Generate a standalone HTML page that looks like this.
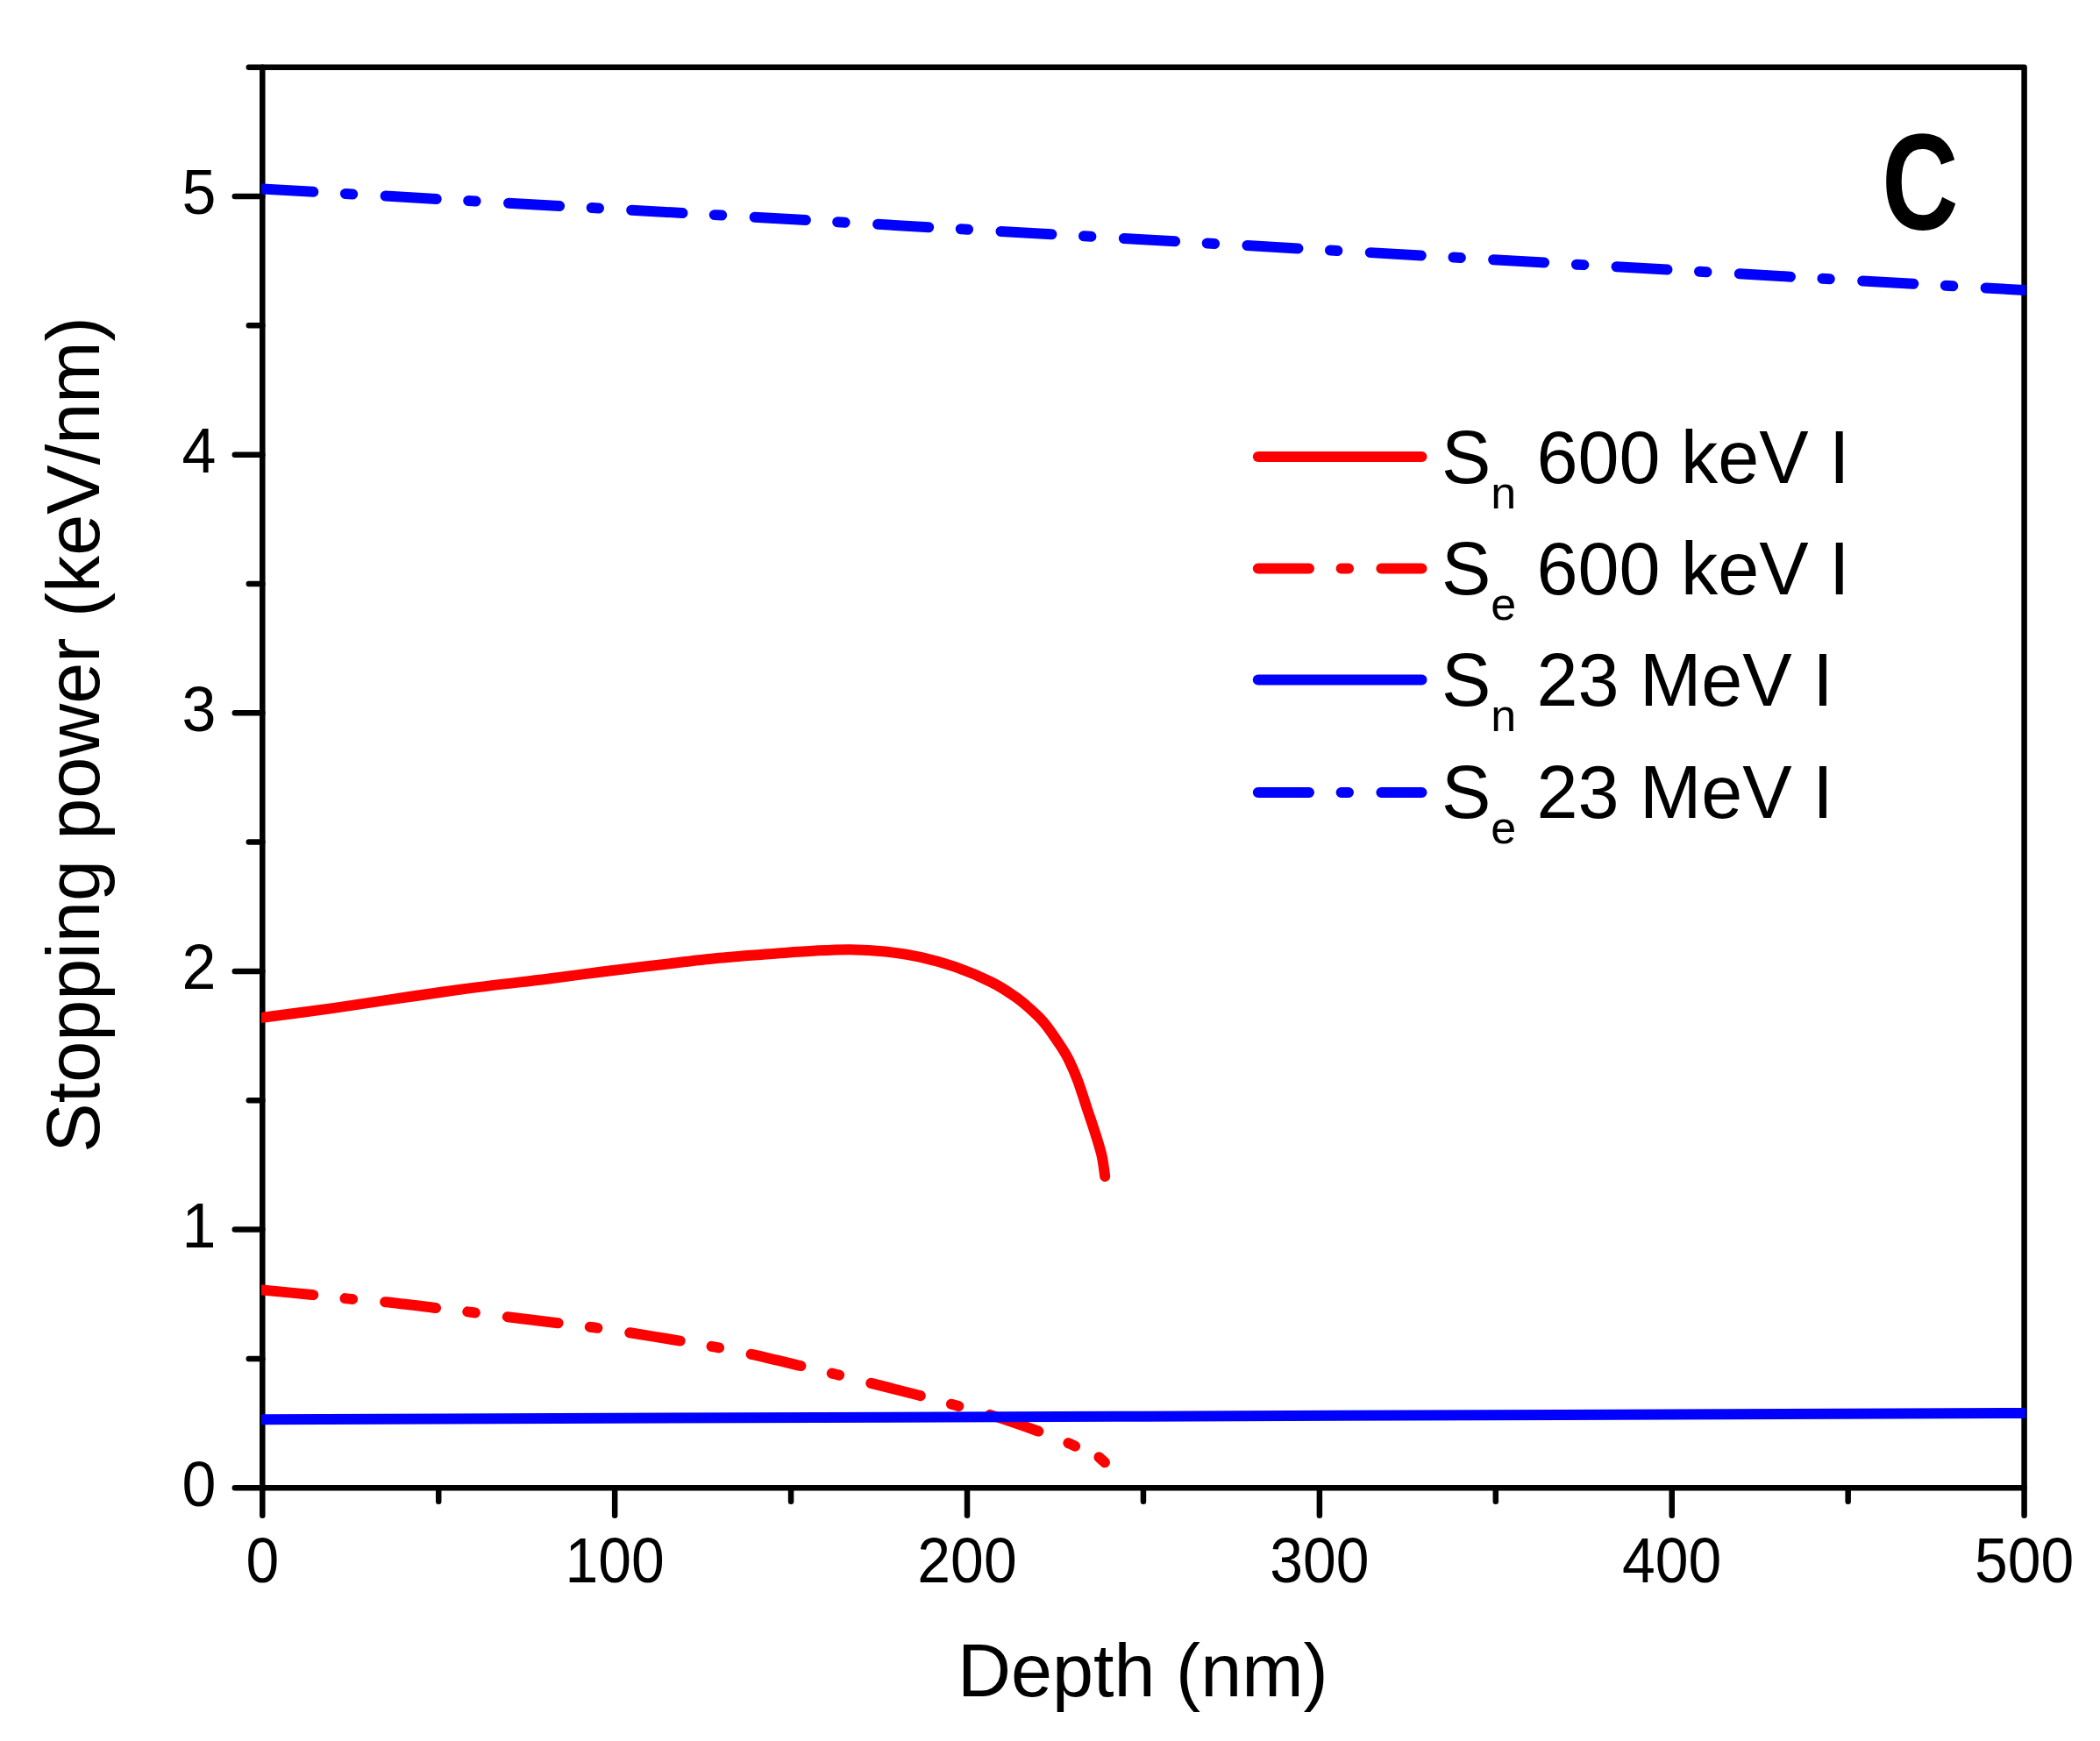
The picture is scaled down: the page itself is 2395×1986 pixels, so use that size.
<!DOCTYPE html>
<html><head><meta charset="utf-8"><title>Stopping power vs depth</title>
<style>html,body{margin:0;padding:0;background:#fff;}svg{display:block;}</style>
</head><body>
<svg width="2395" height="1986" viewBox="0 0 2395 1986">
<defs><clipPath id="pc"><rect x="298" y="60" width="2012.5" height="1660"/></clipPath></defs>
<rect x="0" y="0" width="2395" height="1986" fill="#ffffff"/>
<rect x="299.30" y="76.70" width="2009.30" height="1620.50" fill="none" stroke="#000" stroke-width="6.5" stroke-linejoin="round"/>
<path d="M299.30,1697.20H267.80M299.30,1549.88H283.80M299.30,1402.56H267.80M299.30,1255.25H283.80M299.30,1107.93H267.80M299.30,960.61H283.80M299.30,813.29H267.80M299.30,665.97H283.80M299.30,518.65H267.80M299.30,371.34H283.80M299.30,224.02H267.80M299.30,76.70H283.80M299.30,1697.20V1728.70M500.23,1697.20V1712.70M701.16,1697.20V1728.70M902.09,1697.20V1712.70M1103.02,1697.20V1728.70M1303.95,1697.20V1712.70M1504.88,1697.20V1728.70M1705.81,1697.20V1712.70M1906.74,1697.20V1728.70M2107.67,1697.20V1712.70M2308.60,1697.20V1728.70" fill="none" stroke="#000" stroke-width="6.5" stroke-linecap="round"/>
<g font-family="Liberation Sans, Arial, sans-serif" font-size="70" fill="#000"><text transform="translate(246.5,1717.5) scale(1,1.035)" text-anchor="end">0</text><text transform="translate(246.5,1422.9) scale(1,1.035)" text-anchor="end">1</text><text transform="translate(246.5,1128.2) scale(1,1.035)" text-anchor="end">2</text><text transform="translate(246.5,833.6) scale(1,1.035)" text-anchor="end">3</text><text transform="translate(246.5,539.0) scale(1,1.035)" text-anchor="end">4</text><text transform="translate(246.5,244.3) scale(1,1.035)" text-anchor="end">5</text><text transform="translate(299.3,1805.4) scale(0.97,1.035)" text-anchor="middle">0</text><text transform="translate(701.2,1805.4) scale(0.97,1.035)" text-anchor="middle">100</text><text transform="translate(1103.0,1805.4) scale(0.97,1.035)" text-anchor="middle">200</text><text transform="translate(1504.9,1805.4) scale(0.97,1.035)" text-anchor="middle">300</text><text transform="translate(1906.7,1805.4) scale(0.97,1.035)" text-anchor="middle">400</text><text transform="translate(2308.6,1805.4) scale(0.97,1.035)" text-anchor="middle">500</text></g>
<text font-family="Liberation Sans, Arial, sans-serif" font-size="84.5" x="1092.1" y="1934.8" fill="#000">Depth (nm)</text>
<text font-family="Liberation Sans, Arial, sans-serif" font-size="84.5" transform="translate(112.5,1314.7) rotate(-90)" fill="#000">Stopping power (keV/nm)</text>
<g clip-path="url(#pc)" fill="none" stroke-width="12">
<path d="M299.30,1471.50 C308.75,1472.42 339.48,1475.32 356.00,1477.00 C372.52,1478.68 384.40,1480.22 398.40,1481.60 C412.40,1482.98 423.57,1483.57 440.00,1485.30 C456.43,1487.03 480.62,1490.05 497.00,1492.00 C513.38,1493.95 524.63,1495.30 538.30,1497.00 C551.97,1498.70 562.72,1500.17 579.00,1502.20 C595.28,1504.23 619.63,1507.18 636.00,1509.20 C652.37,1511.22 663.45,1512.45 677.20,1514.30 C690.95,1516.15 702.08,1517.75 718.50,1520.30 C734.92,1522.85 759.48,1526.88 775.70,1529.60 C791.92,1532.32 802.25,1534.05 815.80,1536.60 C829.35,1539.15 840.90,1541.37 857.00,1544.90 C873.10,1548.43 896.50,1554.03 912.40,1557.80 C928.30,1561.57 938.87,1564.15 952.40,1567.50 C965.93,1570.85 977.60,1573.85 993.60,1577.90 C1009.60,1581.95 1032.68,1587.70 1048.40,1591.80 C1064.12,1595.90 1074.65,1598.88 1087.90,1602.50 C1101.15,1606.12 1111.92,1608.50 1127.90,1613.50 C1143.88,1618.50 1168.47,1626.95 1183.80,1632.50 C1199.13,1638.05 1209.70,1642.30 1219.90,1646.80 C1230.10,1651.30 1240.82,1657.38 1245.00,1659.50" stroke="#ff0000" stroke-linecap="round" stroke-linejoin="round" stroke-dasharray="58.2 36.6 8.4 37.4"/>
<path d="M1253.4,1662.2L1260.0,1668.2" stroke="#ff0000" stroke-linecap="round"/>
<path d="M299.30,1160.70 C312.92,1158.90 353.90,1153.73 381.00,1149.90 C408.10,1146.07 434.92,1141.62 461.90,1137.70 C488.88,1133.78 515.92,1129.90 542.90,1126.40 C569.88,1122.90 599.83,1119.68 623.80,1116.70 C647.77,1113.72 665.12,1111.20 686.70,1108.50 C708.28,1105.80 731.08,1103.12 753.30,1100.50 C775.52,1097.88 797.77,1094.97 820.00,1092.80 C842.23,1090.63 868.37,1088.88 886.70,1087.50 C905.03,1086.12 916.12,1085.22 930.00,1084.50 C943.88,1083.78 956.67,1083.03 970.00,1083.20 C983.33,1083.37 996.67,1084.07 1010.00,1085.50 C1023.33,1086.93 1036.67,1088.85 1050.00,1091.80 C1063.33,1094.75 1076.52,1098.42 1090.00,1103.20 C1103.48,1107.98 1119.77,1114.98 1130.90,1120.50 C1142.03,1126.02 1149.62,1131.37 1156.80,1136.30 C1163.98,1141.23 1168.25,1144.93 1174.00,1150.10 C1179.75,1155.27 1185.55,1160.40 1191.30,1167.30 C1197.05,1174.20 1203.92,1184.60 1208.50,1191.50 C1213.08,1198.40 1215.35,1201.82 1218.80,1208.70 C1222.25,1215.58 1225.75,1223.62 1229.20,1232.80 C1232.65,1241.98 1236.07,1253.45 1239.50,1263.80 C1242.93,1274.15 1246.93,1285.70 1249.80,1294.90 C1252.67,1304.10 1254.97,1311.15 1256.70,1319.00 C1258.43,1326.85 1259.62,1338.17 1260.20,1342.00" stroke="#ff0000" stroke-linecap="round" stroke-linejoin="round"/>
<path d="M299.30,1619.30 C634.18,1618.08 1973.72,1613.22 2308.60,1612.00" stroke="#0000ff" stroke-linecap="round" stroke-linejoin="round"/>
<path d="M299.30,215.50 C634.18,234.75 1973.72,311.75 2308.60,331.00" stroke="#0000ff" stroke-linecap="round" stroke-linejoin="round" stroke-dasharray="58.2 36.6 8.4 37.4"/>
</g>
<path d="M1434.8,521.1H1621.5" stroke="#ff0000" stroke-width="12" stroke-linecap="round" fill="none"/>
<text font-family="Liberation Sans, Arial, sans-serif" font-size="84.5" x="1643.9" y="550.5" fill="#000">S<tspan font-size="52" dy="29">n</tspan><tspan dy="-29" dx="-0.2"> 600 keV I</tspan></text>
<path d="M1434.8,648.6H1621.5" stroke="#ff0000" stroke-width="12" stroke-linecap="round" fill="none" stroke-dasharray="58.2 36.6 8.4 37.4"/>
<text font-family="Liberation Sans, Arial, sans-serif" font-size="84.5" x="1643.9" y="678.0" fill="#000">S<tspan font-size="52" dy="29">e</tspan><tspan dy="-29" dx="-0.2"> 600 keV I</tspan></text>
<path d="M1434.8,775.4H1621.5" stroke="#0000ff" stroke-width="12" stroke-linecap="round" fill="none"/>
<text font-family="Liberation Sans, Arial, sans-serif" font-size="84.5" x="1643.9" y="804.8" fill="#000">S<tspan font-size="52" dy="29">n</tspan><tspan dy="-29" dx="-0.2"> 23 MeV I</tspan></text>
<path d="M1434.8,903.9H1621.5" stroke="#0000ff" stroke-width="12" stroke-linecap="round" fill="none" stroke-dasharray="58.2 36.6 8.4 37.4"/>
<text font-family="Liberation Sans, Arial, sans-serif" font-size="84.5" x="1643.9" y="933.3" fill="#000">S<tspan font-size="52" dy="29">e</tspan><tspan dy="-29" dx="-0.2"> 23 MeV I</tspan></text>
<text font-family="Liberation Sans, Arial, sans-serif" font-weight="bold" font-size="156" transform="translate(2146.35,260.8) scale(0.7746,1)" fill="#000">C</text>
</svg>
</body></html>
